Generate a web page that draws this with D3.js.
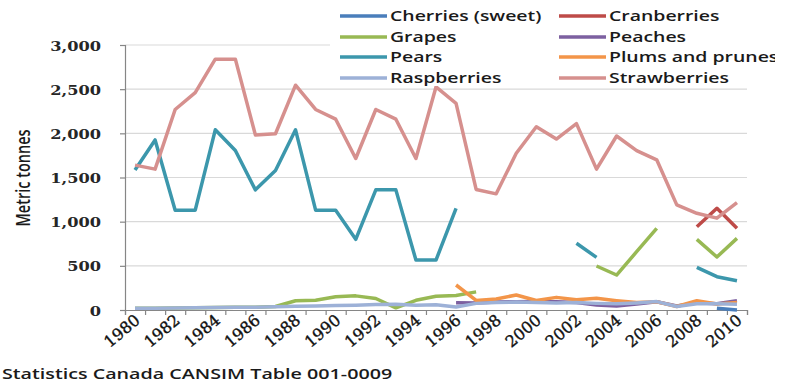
<!DOCTYPE html>
<html>
<head>
<meta charset="utf-8">
<script src="https://cdn.jsdelivr.net/npm/d3@7"></script>
<style>
  html, body { margin: 0; padding: 0; background: #fff; }
  svg { display: block; }
</style>
</head>
<body>
<div id="chart"></div>
<script>
// Fruit production in Canada, 1980-2010 (metric tonnes)
const years = d3.range(1980, 2011);
const yTicks = [0, 500, 1000, 1500, 2000, 2500, 3000];
const xTickYears = years.filter(y => y % 2 === 0);

const N = null;
const cherries = [N,N,N,N,N,N,N,N,N,N,N,N,N,N,N,N,N,N,N,N,N,N,N,N,N,N,N,N,N,20,0];
const cranberries = [N,N,N,N,N,N,N,N,N,N,N,N,N,N,N,N,N,N,N,N,N,N,N,N,N,N,N,N,943,1151,925];
const grapes = [20,20,22,25,28,30,32,40,105,110,150,160,130,25,110,155,165,205,N,N,N,N,N,498,396,660,925,N,800,600,811];
const peaches = [N,N,N,N,N,N,N,N,N,N,N,N,N,N,N,N,83,78,90,94,95,92,85,57,45,68,94,45,83,70,106];
const pears = [1585,1925,1130,1130,2040,1805,1360,1580,2040,1130,1130,800,1360,1360,565,565,1150,N,N,N,N,N,755,596,N,N,N,N,483,377,332];
const plums = [N,N,N,N,N,N,N,N,N,N,N,N,N,N,N,N,283,108,125,170,108,143,115,132,106,85,94,40,106,68,85];
const raspberries = [20,20,22,25,28,30,32,38,42,45,50,55,62,65,55,60,35,75,85,90,85,80,85,75,70,80,95,40,70,70,65];
const strawberries = [1640,1595,2270,2460,2840,2840,1980,1995,2545,2270,2160,1715,2270,2160,1715,2525,2340,1365,1315,1775,2075,1935,2110,1595,1970,1805,1700,1190,1095,1040,1215];

const seriesNames = ["Cherries (sweet)", "Cranberries", "Grapes", "Peaches", "Pears", "Plums and prunes", "Raspberries", "Strawberries"];
const seriesValues = [cherries, cranberries, grapes, peaches, pears, plums, raspberries, strawberries];
const seriesColors = ["#4A7EBB", "#BE4B48", "#98B954", "#7D60A0", "#3C97AC", "#F39549", "#9DB1D7", "#D6908E"];

const W = 787, H = 384;
const plot = { left: 125, right: 747, top: 45, bottom: 310 };
const TEXT_SX = 1.35;              // horizontal stretch applied to labels
const NUM_SX = 1.2;                // horizontal stretch for value labels
const sansFont = "'Open Sans', sans-serif";
const numFont = "'DejaVu Serif', serif";

const svg = d3.select("#chart").append("svg")
  .attr("width", W).attr("height", H);

const x = d3.scaleBand().domain(years).range([plot.left, plot.right]).padding(0);
const xEdge = d3.scaleLinear().domain([0, years.length]).range([plot.left, plot.right]);
const y = d3.scaleLinear().domain([0, 3000]).range([plot.bottom, plot.top]);
const cx = yr => x(yr) + x.bandwidth() / 2;

// horizontal gridlines
svg.append("g").selectAll("line").data(yTicks.filter(v => v > 0)).join("line")
  .attr("x1", plot.left).attr("x2", plot.right)
  .attr("y1", d => y(d)).attr("y2", d => y(d))
  .attr("stroke", "#D9D9D9").attr("stroke-width", 1.2);

// y axis
const yAxis = svg.append("g").attr("transform", `translate(${plot.left},0)`)
  .call(d3.axisLeft(y).tickValues(yTicks).tickFormat(d3.format(",")).tickSize(5));
yAxis.select(".domain").attr("stroke", "#868686").attr("stroke-width", 1.2);
yAxis.selectAll(".tick line").attr("stroke", "#868686").attr("stroke-width", 1.2);
yAxis.selectAll(".tick text")
  .attr("x", null).attr("dy", null)
  .attr("transform", `translate(-24,5) scale(${NUM_SX},1)`)
  .attr("font-family", numFont).attr("font-weight", "bold")
  .attr("font-size", 13.5).attr("fill", "#262626");

// x axis: ticks on category boundaries
const xAxis = svg.append("g").attr("transform", `translate(0,${plot.bottom})`)
  .call(d3.axisBottom(xEdge).tickValues(d3.range(years.length + 1)).tickFormat("").tickSize(5));
xAxis.select(".domain").attr("stroke", "#868686").attr("stroke-width", 1.2);
xAxis.selectAll(".tick line").attr("stroke", "#868686").attr("stroke-width", 1.2);

svg.append("g").selectAll("text").data(xTickYears).join("text")
  .attr("transform", d => `translate(${cx(d) + 6},${plot.bottom + 12}) rotate(-40)`)
  .attr("text-anchor", "end")
  .attr("font-family", numFont).attr("font-size", 16)
  .attr("fill", "#111").attr("stroke", "#111").attr("stroke-width", 0.4)
  .text(d => d);

// series lines
const line = d3.line()
  .defined(d => d.v != null)
  .x(d => cx(d.year))
  .y(d => y(d.v));

svg.append("g").selectAll("path").data(seriesValues).join("path")
  .attr("d", vals => line(vals.map((v, i) => ({ year: years[i], v }))))
  .attr("fill", "none")
  .attr("stroke", (d, i) => seriesColors[i])
  .attr("stroke-width", 3.5)
  .attr("stroke-linejoin", "round");

// y axis title
svg.append("text")
  .attr("transform", `translate(30,178) scale(${TEXT_SX},1) rotate(-90)`)
  .attr("text-anchor", "middle")
  .attr("font-family", sansFont).attr("font-weight", 600).attr("font-size", 14.5)
  .attr("fill", "#1a1a1a")
  .text("Metric tonnes");

// legend
const defs = svg.append("defs");
defs.append("clipPath").attr("id", "legend-clip")
  .append("rect").attr("x", 0).attr("y", 0).attr("width", 775).attr("height", H);

const legend = svg.append("g").attr("clip-path", "url(#legend-clip)");
legend.append("rect").attr("x", 330).attr("y", 0).attr("width", 457).attr("height", 86).attr("fill", "#fff");

const colX = [340, 559];
const rowY = [16, 37, 57, 78];
const items = legend.selectAll("g.item").data(seriesNames).join("g")
  .attr("class", "item")
  .attr("transform", (d, i) => `translate(${colX[i % 2]},${rowY[Math.floor(i / 2)]})`);
items.append("line")
  .attr("x1", 0).attr("x2", 47).attr("y1", 0).attr("y2", 0)
  .attr("stroke", (d, i) => seriesColors[i]).attr("stroke-width", 3.5);
items.append("text")
  .attr("transform", `translate(50,5) scale(${TEXT_SX},1)`)
  .attr("font-family", sansFont).attr("font-weight", 600).attr("font-size", 14.4)
  .attr("fill", "#1a1a1a")
  .text(d => d);

// source note
svg.append("text")
  .attr("transform", `translate(2,379) scale(${TEXT_SX},1)`)
  .attr("font-family", sansFont).attr("font-weight", 600).attr("font-size", 14.6)
  .attr("fill", "#1a1a1a")
  .text("Statistics Canada CANSIM Table 001-0009");
</script>
</body>
</html>
